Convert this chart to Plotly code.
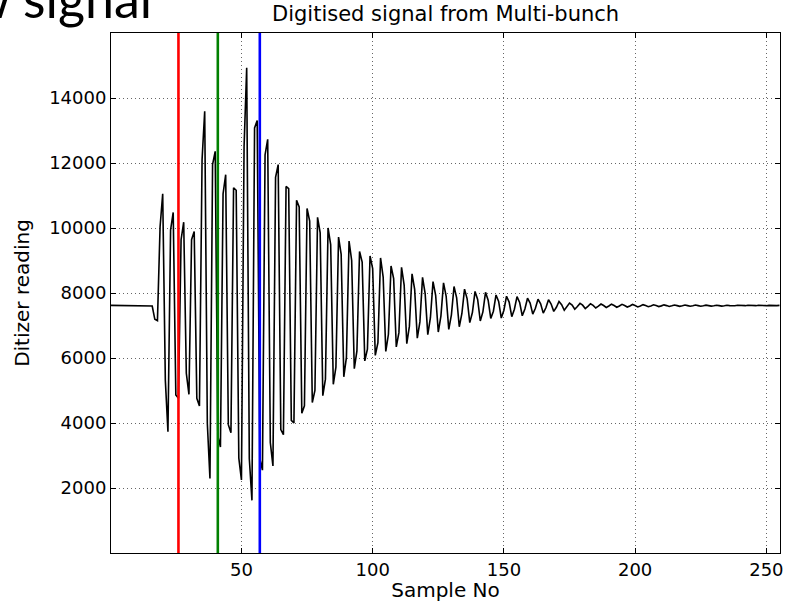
import plotly.graph_objects as go

# Digitiser samples (sample index 0..255)
sample_values = [
    7620, 7620, 7618, 7620, 7622, 7620, 7618, 7616, 7618, 7620, 7622, 7620, 7620, 7618, 7620, 7622,
    7600, 7190, 7150,
    10040, 11050, 5320, 3730,
    9940, 10480, 4860, 4760,
    9640, 10180, 5530, 4880,
    9640, 9890, 4760, 4520,
    12100, 13590, 3990, 2290,
    11950, 12360, 3600, 3260,
    11050, 11640, 3950, 3700,
    11240, 11160, 2920, 2250,
    12500, 14930, 2900, 1620,
    13080, 13310, 2900, 2550,
    12250, 12730, 3400, 2680,
    11560, 11950, 3800, 3640,
    11280, 11210, 4080, 4000,
    10850, 10650, 4300, 4530,
    10600, 10210, 4630, 5000,
    10330, 9850, 4840, 5350,
    10000, 9490, 5190, 5720,
    9720, 9190, 5420, 6020,
    9600, 9000, 5670, 6220,
    9280, 8950, 5910, 6270,
    9140, 8750, 6080, 6470,
    9080, 8490, 6200, 6730,
    8830, 8440, 6340, 6780,
    8790, 8240, 6440, 6980,
    8590, 8110, 6610, 7110,
    8480, 7980, 6720, 7240,
    8350, 7930, 6800, 7290,
    8310, 7900, 6880, 7330,
    8200, 7850, 6960, 7370,
    8120, 7820, 7090, 7400,
    8050, 7800, 7140, 7420,
    8020, 7780, 7220, 7440,
    7940, 7740, 7230, 7470,
    7900, 7720, 7270, 7500,
    7890, 7710, 7300, 7510,
    7840, 7690, 7350, 7530,
    7810, 7670, 7380, 7545,
    7795, 7660, 7435, 7560,
    7740, 7640, 7470, 7575,
    7690, 7630, 7500, 7585,
    7680, 7625, 7520, 7590,
    7670, 7620, 7540, 7595,
    7660, 7615, 7555, 7600,
    7655, 7615, 7562, 7600,
    7650, 7614, 7568, 7601,
    7646, 7613, 7573, 7602,
    7642, 7613, 7578, 7603,
    7638, 7612, 7582, 7604,
    7635, 7612, 7586, 7605,
    7632, 7612, 7589, 7606,
    7630, 7612, 7592, 7607,
    7628, 7612, 7594, 7608,
    7626, 7612, 7596, 7608,
    7625, 7612, 7598, 7609,
    7624, 7612, 7599, 7609,
    7623, 7612, 7600, 7610,
    7622, 7612, 7601, 7610,
    7621, 7612, 7602, 7610,
    7620, 7612, 7603, 7611,
    7619,
]
samples = list(range(len(sample_values)))

marker_positions = [26, 41, 57]
marker_colors = ["#ff0000", "#008000", "#0000ff"]

x_ticks = [50, 100, 150, 200, 250]
y_ticks = [2000, 4000, 6000, 8000, 10000, 12000, 14000]

title_text = "Digitised signal from Multi-bunch"
x_label = "Sample No"
y_label = "Ditizer reading"
slide_title = "Raw signal"

FONT = "DejaVu Sans"

fig = go.Figure()
fig.add_trace(go.Scatter(
    x=samples, y=sample_values, mode="lines",
    line=dict(color="black", width=1.6), hoverinfo="skip",
))
for xv, col in zip(marker_positions, marker_colors):
    fig.add_trace(go.Scatter(
        x=[xv, xv], y=[0, 16000], mode="lines",
        line=dict(color=col, width=2.6), hoverinfo="skip",
    ))

axis_common = dict(
    ticks="inside", ticklen=5, tickwidth=1, tickcolor="black",
    showline=True, linecolor="black", linewidth=1, mirror="ticks",
    showgrid=True, gridcolor="rgba(0,0,0,0.6)", gridwidth=1, griddash="1px,3px",
    zeroline=False, tickfont=dict(family=FONT, size=18, color="black"),
    tickformat="d",
)

fig.update_xaxes(range=[0.3, 255.2], tickvals=x_ticks, **axis_common,
                 title=dict(text=x_label, font=dict(family=FONT, size=20, color="black"), standoff=4))
fig.update_yaxes(range=[0, 16000], tickvals=y_ticks, **axis_common,
                 title=dict(text=y_label, font=dict(family=FONT, size=20, color="black"), standoff=14))

fig.update_layout(
    width=788, height=602,
    margin=dict(l=111, r=8, t=33, b=49, autoexpand=False),
    paper_bgcolor="white", plot_bgcolor="white",
    showlegend=False,
    font=dict(family=FONT, color="black"),
    annotations=[
        dict(text=title_text, xref="paper", yref="paper", x=0.5, y=1.0365,
             xanchor="center", yanchor="middle", showarrow=False,
             font=dict(family=FONT, size=21, color="black")),
        dict(text=slide_title, xref="paper", yref="paper", x=(154 - 111) / 669, y=1.068,
             xanchor="right", yanchor="middle", showarrow=False,
             font=dict(family="Lato", size=52, color="black")),
    ],
)

fig.write_html("out.html")
